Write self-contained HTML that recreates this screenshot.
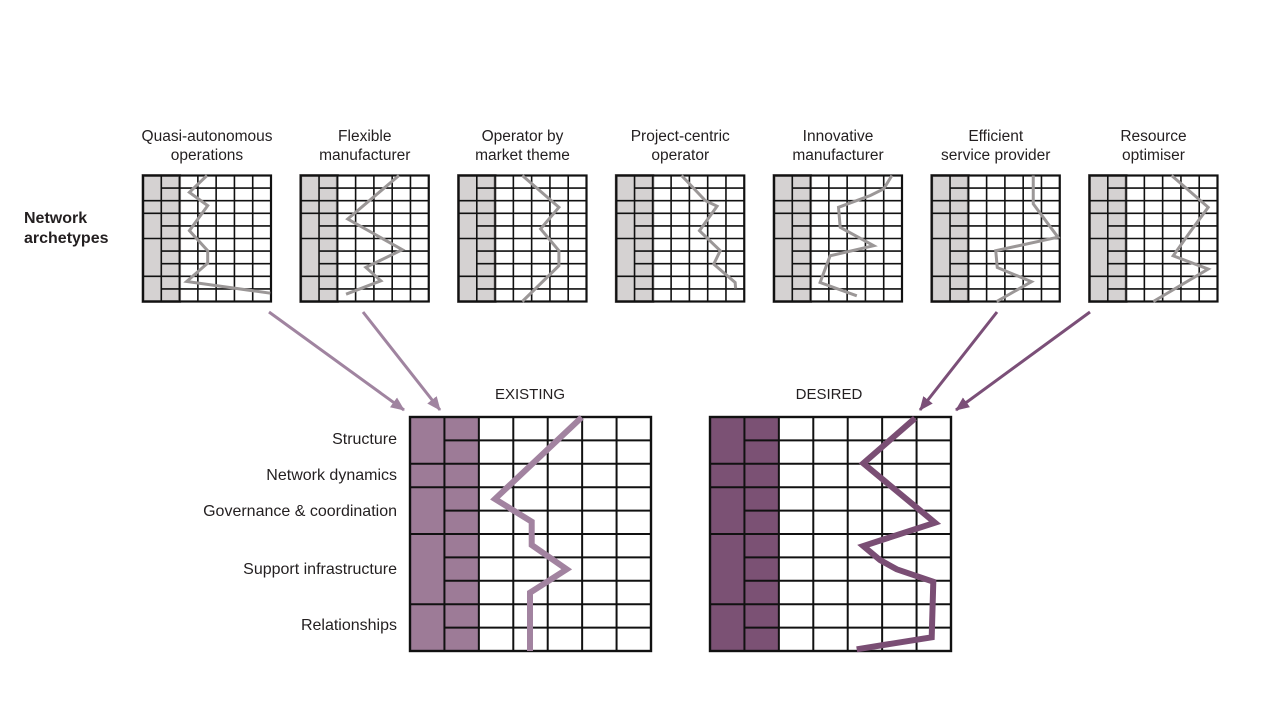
<!DOCTYPE html>
<html><head><meta charset="utf-8"><style>
html,body{margin:0;padding:0;background:#fff;width:1280px;height:720px;overflow:hidden}
svg{display:block}
text{font-family:"Liberation Sans",sans-serif;fill:#231f20}
</style></head><body>
<svg width="1280" height="720" viewBox="0 0 1280 720" xmlns="http://www.w3.org/2000/svg">
<defs>
<g id="sg">
<rect x="0" y="0" width="36.57" height="126" fill="#d5d2d2"/>
<g stroke="#111" stroke-width="1.6" fill="none">
<line x1="18.29" y1="0" x2="18.29" y2="126"/>
<line x1="36.57" y1="0" x2="36.57" y2="126"/>
<line x1="54.86" y1="0" x2="54.86" y2="126"/>
<line x1="73.14" y1="0" x2="73.14" y2="126"/>
<line x1="91.43" y1="0" x2="91.43" y2="126"/>
<line x1="109.71" y1="0" x2="109.71" y2="126"/>
<line x1="18.29" y1="12.6" x2="128" y2="12.6"/>
<line x1="0" y1="25.2" x2="128" y2="25.2"/>
<line x1="0" y1="37.8" x2="128" y2="37.8"/>
<line x1="18.29" y1="50.4" x2="128" y2="50.4"/>
<line x1="0" y1="63" x2="128" y2="63"/>
<line x1="18.29" y1="75.6" x2="128" y2="75.6"/>
<line x1="18.29" y1="88.2" x2="128" y2="88.2"/>
<line x1="0" y1="100.8" x2="128" y2="100.8"/>
<line x1="18.29" y1="113.4" x2="128" y2="113.4"/>
<rect x="0" y="0" width="128" height="126" stroke-width="2.2"/>
</g>
</g>
<g id="bgl">
<g stroke="#111" stroke-width="2" fill="none">
<line x1="34.43" y1="0" x2="34.43" y2="234"/>
<line x1="68.86" y1="0" x2="68.86" y2="234"/>
<line x1="103.29" y1="0" x2="103.29" y2="234"/>
<line x1="137.71" y1="0" x2="137.71" y2="234"/>
<line x1="172.14" y1="0" x2="172.14" y2="234"/>
<line x1="206.57" y1="0" x2="206.57" y2="234"/>
<line x1="34.43" y1="23.4" x2="241" y2="23.4"/>
<line x1="0" y1="46.8" x2="241" y2="46.8"/>
<line x1="0" y1="70.2" x2="241" y2="70.2"/>
<line x1="34.43" y1="93.6" x2="241" y2="93.6"/>
<line x1="0" y1="117" x2="241" y2="117"/>
<line x1="34.43" y1="140.4" x2="241" y2="140.4"/>
<line x1="34.43" y1="163.8" x2="241" y2="163.8"/>
<line x1="0" y1="187.2" x2="241" y2="187.2"/>
<line x1="34.43" y1="210.6" x2="241" y2="210.6"/>
<rect x="0" y="0" width="241" height="234" stroke-width="2.4"/>
</g>
</g>
<marker id="ah1" markerWidth="14" markerHeight="12" refX="13" refY="6" orient="auto" markerUnits="userSpaceOnUse">
<path d="M0,0 L14,6 L0,12 Z" fill="#a084a0"/>
</marker>
<marker id="ah2" markerWidth="14" markerHeight="12" refX="13" refY="6" orient="auto" markerUnits="userSpaceOnUse">
<path d="M0,0 L14,6 L0,12 Z" fill="#7b4f78"/>
</marker>
</defs>

<!-- titles -->
<g font-size="15.5" text-anchor="middle">
<text x="207" y="141">Quasi-autonomous</text><text x="207" y="160">operations</text>
<text x="364.75" y="141">Flexible</text><text x="364.75" y="160">manufacturer</text>
<text x="522.5" y="141">Operator by</text><text x="522.5" y="160">market theme</text>
<text x="680.25" y="141">Project-centric</text><text x="680.25" y="160">operator</text>
<text x="838" y="141">Innovative</text><text x="838" y="160">manufacturer</text>
<text x="995.75" y="141">Efficient</text><text x="995.75" y="160">service provider</text>
<text x="1153.5" y="141">Resource</text><text x="1153.5" y="160">optimiser</text>
</g>

<text x="24" y="223" font-size="16" font-weight="bold" fill="#111">Network</text>
<text x="24" y="243" font-size="16" font-weight="bold" fill="#111">archetypes</text>

<!-- small grids -->
<g fill="none" stroke="#9b9797" stroke-width="3" stroke-linejoin="miter">
<g transform="translate(143,175.5)"><use href="#sg"/><polyline points="64,0 46.4,16.8 64.7,30.1 46.4,55.2 64.7,75.2 64.7,87.6 43.7,106 127.3,117.7"/></g>
<g transform="translate(300.75,175.5)"><use href="#sg"/><polyline points="98.2,0 47,43.5 101.5,74.2 65.1,91.9 80.1,105.3 45.3,118.7"/></g>
<g transform="translate(458.5,175.5)"><use href="#sg"/><polyline points="63.8,0 100.4,31.8 82.1,53.4 100.4,75.2 100.4,90.2 63.8,126"/></g>
<g transform="translate(616.25,175.5)"><use href="#sg"/><polyline points="65.3,0 89.1,25.1 100.8,30.7 83.2,55.2 104,75.2 97.5,88.6 118.9,107 119.4,113"/></g>
<g transform="translate(774,175.5)"><use href="#sg"/><polyline points="117.9,0 109.7,13.4 96.4,20 64.5,31.8 66.2,51.8 99.7,70.2 56.1,80.3 46.1,107 82.8,120.3"/></g>
<g transform="translate(931.75,175.5)"><use href="#sg"/><polyline points="101.5,0 101.5,28.4 126.2,61.7 64,75.2 65.5,92 99.7,106.2 64.9,126"/></g>
<g transform="translate(1089.5,175.5)"><use href="#sg"/><polyline points="82.1,0 118.7,31.8 100.4,56.8 83.7,80.3 118.7,93.6 63.8,126"/></g>
</g>

<!-- arrows -->
<g stroke-width="3" fill="none">
<line x1="269" y1="312" x2="404" y2="410" stroke="#a084a0" marker-end="url(#ah1)"/>
<line x1="363" y1="312" x2="440" y2="410" stroke="#a084a0" marker-end="url(#ah1)"/>
<line x1="997" y1="312" x2="920" y2="410" stroke="#7b4f78" marker-end="url(#ah2)"/>
<line x1="1090" y1="312" x2="956" y2="410" stroke="#7b4f78" marker-end="url(#ah2)"/>
</g>

<!-- headers -->
<text x="530" y="399" font-size="15" text-anchor="middle">EXISTING</text>
<text x="829" y="399" font-size="15" text-anchor="middle">DESIRED</text>

<!-- row labels -->
<g font-size="16" text-anchor="end">
<text x="397" y="444">Structure</text>
<text x="397" y="480">Network dynamics</text>
<text x="397" y="516">Governance &amp; coordination</text>
<text x="397" y="574">Support infrastructure</text>
<text x="397" y="630">Relationships</text>
</g>

<!-- existing -->
<rect x="410" y="417" width="68.86" height="234" fill="#9d7b97"/>
<g transform="translate(410,417)"><use href="#bgl"/></g>
<polyline points="581.7,417.3 495,499 531.7,521.7 531.7,545 566.7,569.3 530,592.7 530,651" fill="none" stroke="#a283a0" stroke-width="6"/>

<!-- desired -->
<rect x="710" y="417" width="68.86" height="234" fill="#7b5174"/>
<g transform="translate(710,417)"><use href="#bgl"/></g>
<polyline points="915,418.3 863.3,463.3 935,522.7 863.3,546 880,560 896.7,569.3 933.3,581.7 931.7,637.3 856.7,649.3" fill="none" stroke="#7a4e74" stroke-width="6"/>
</svg>
</body></html>
